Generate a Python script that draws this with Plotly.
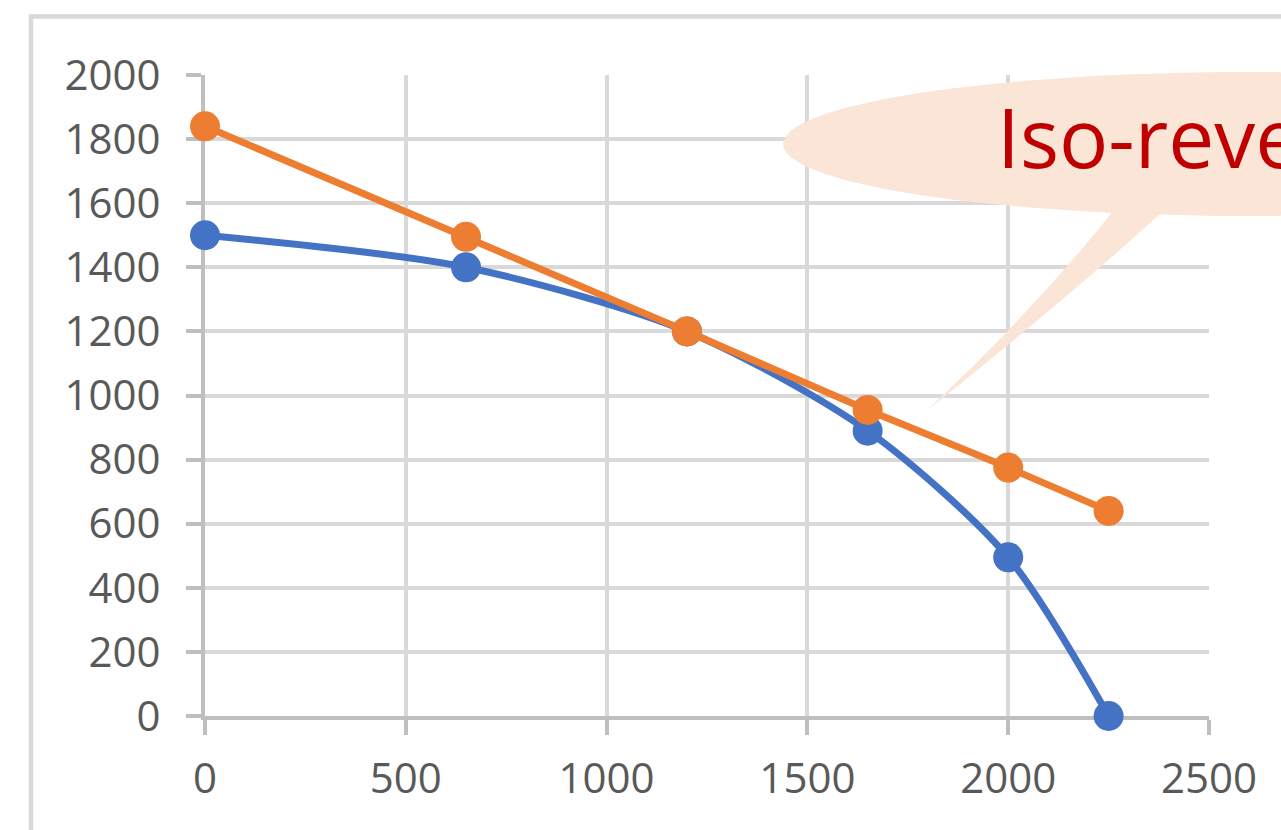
import plotly.graph_objects as go

# Quantity on the x axis, two price/quantity schedules on the y axis
quantity = [0, 650, 1200, 1650, 2000, 2250]
demand_curve = [1500, 1400, 1200, 890, 495, 0]
iso_revenue = [1840, 1495, 1200, 955, 775, 640]

x_ticks = [0, 500, 1000, 1500, 2000, 2500]
y_ticks = [0, 200, 400, 600, 800, 1000, 1200, 1400, 1600, 1800, 2000]
callout_text = "Iso-revenue"

BLUE = "#4472C4"
ORANGE = "#ED7D31"
GRID = "#D9D9D9"
AXIS = "#BFBFBF"
LABEL = "#595959"

W, H = 1281, 830
L, R, T, B = 205, 1209, 75, 716  # plot area edges in pixels


def px_x(p):
    return (p - L) / (R - L)


def px_y(p):
    return (B - p) / (B - T)


fig = go.Figure()

fig.add_trace(go.Scatter(
    x=quantity, y=demand_curve, mode="lines+markers",
    line=dict(color=BLUE, width=7, shape="spline", smoothing=0.8),
    marker=dict(color=BLUE, size=30),
    cliponaxis=False, showlegend=False,
))
fig.add_trace(go.Scatter(
    x=quantity, y=iso_revenue, mode="lines+markers",
    line=dict(color=ORANGE, width=7),
    marker=dict(color=ORANGE, size=30),
    cliponaxis=False, showlegend=False,
))

axis_common = dict(
    showgrid=True, gridcolor=GRID, gridwidth=4,
    showline=True, linecolor=AXIS, linewidth=4,
    ticks="outside", ticklen=15, tickwidth=4, tickcolor=AXIS,
    zeroline=False, layer="below traces",
    tickfont=dict(family="Open Sans", size=42, color=LABEL),
    fixedrange=True,
)

fig.update_xaxes(range=[0, 2500], tickvals=x_ticks,
                 ticktext=[str(v) for v in x_ticks],
                 ticklabelstandoff=8, **axis_common)
fig.update_yaxes(range=[0, 2000], tickvals=y_ticks,
                 ticktext=[str(v) for v in y_ticks],
                 ticklabelstandoff=17, **axis_common)

shapes = [
    # chart frame
    dict(type="rect", xref="paper", yref="paper",
         x0=px_x(31), x1=px_x(W + 40), y0=px_y(16.5), y1=px_y(H + 40),
         line=dict(color=GRID, width=4.5), fillcolor="rgba(0,0,0,0)",
         layer="below"),
    # callout pointer
    dict(type="path", xref="paper", yref="paper",
         path=(f"M {px_x(1118)},{px_y(205)} "
               f"Q {px_x(1035)},{px_y(310)} {px_x(925)},{px_y(412)} "
               f"Q {px_x(1060)},{px_y(305)} {px_x(1170)},{px_y(205)} Z"),
         fillcolor="#FBE5D6", line=dict(width=0), layer="above"),
    # callout bubble
    dict(type="circle", xref="paper", yref="paper",
         x0=px_x(783), x1=px_x(1717), y0=px_y(216), y1=px_y(72),
         fillcolor="#FBE5D6", line=dict(width=0), layer="above"),
]

fig.update_layout(
    width=W, height=H,
    margin=dict(l=L, r=W - R, t=T, b=H - B, autoexpand=False),
    paper_bgcolor="white", plot_bgcolor="white",
    shapes=shapes,
    annotations=[dict(
        xref="paper", yref="paper", x=px_x(995), y=px_y(136),
        xanchor="left", yanchor="middle", showarrow=False,
        text=callout_text,
        font=dict(family="Open Sans", size=82, color="#C00000"),
    )],
)

fig.write_html("out.html", config=dict(displayModeBar=False))
